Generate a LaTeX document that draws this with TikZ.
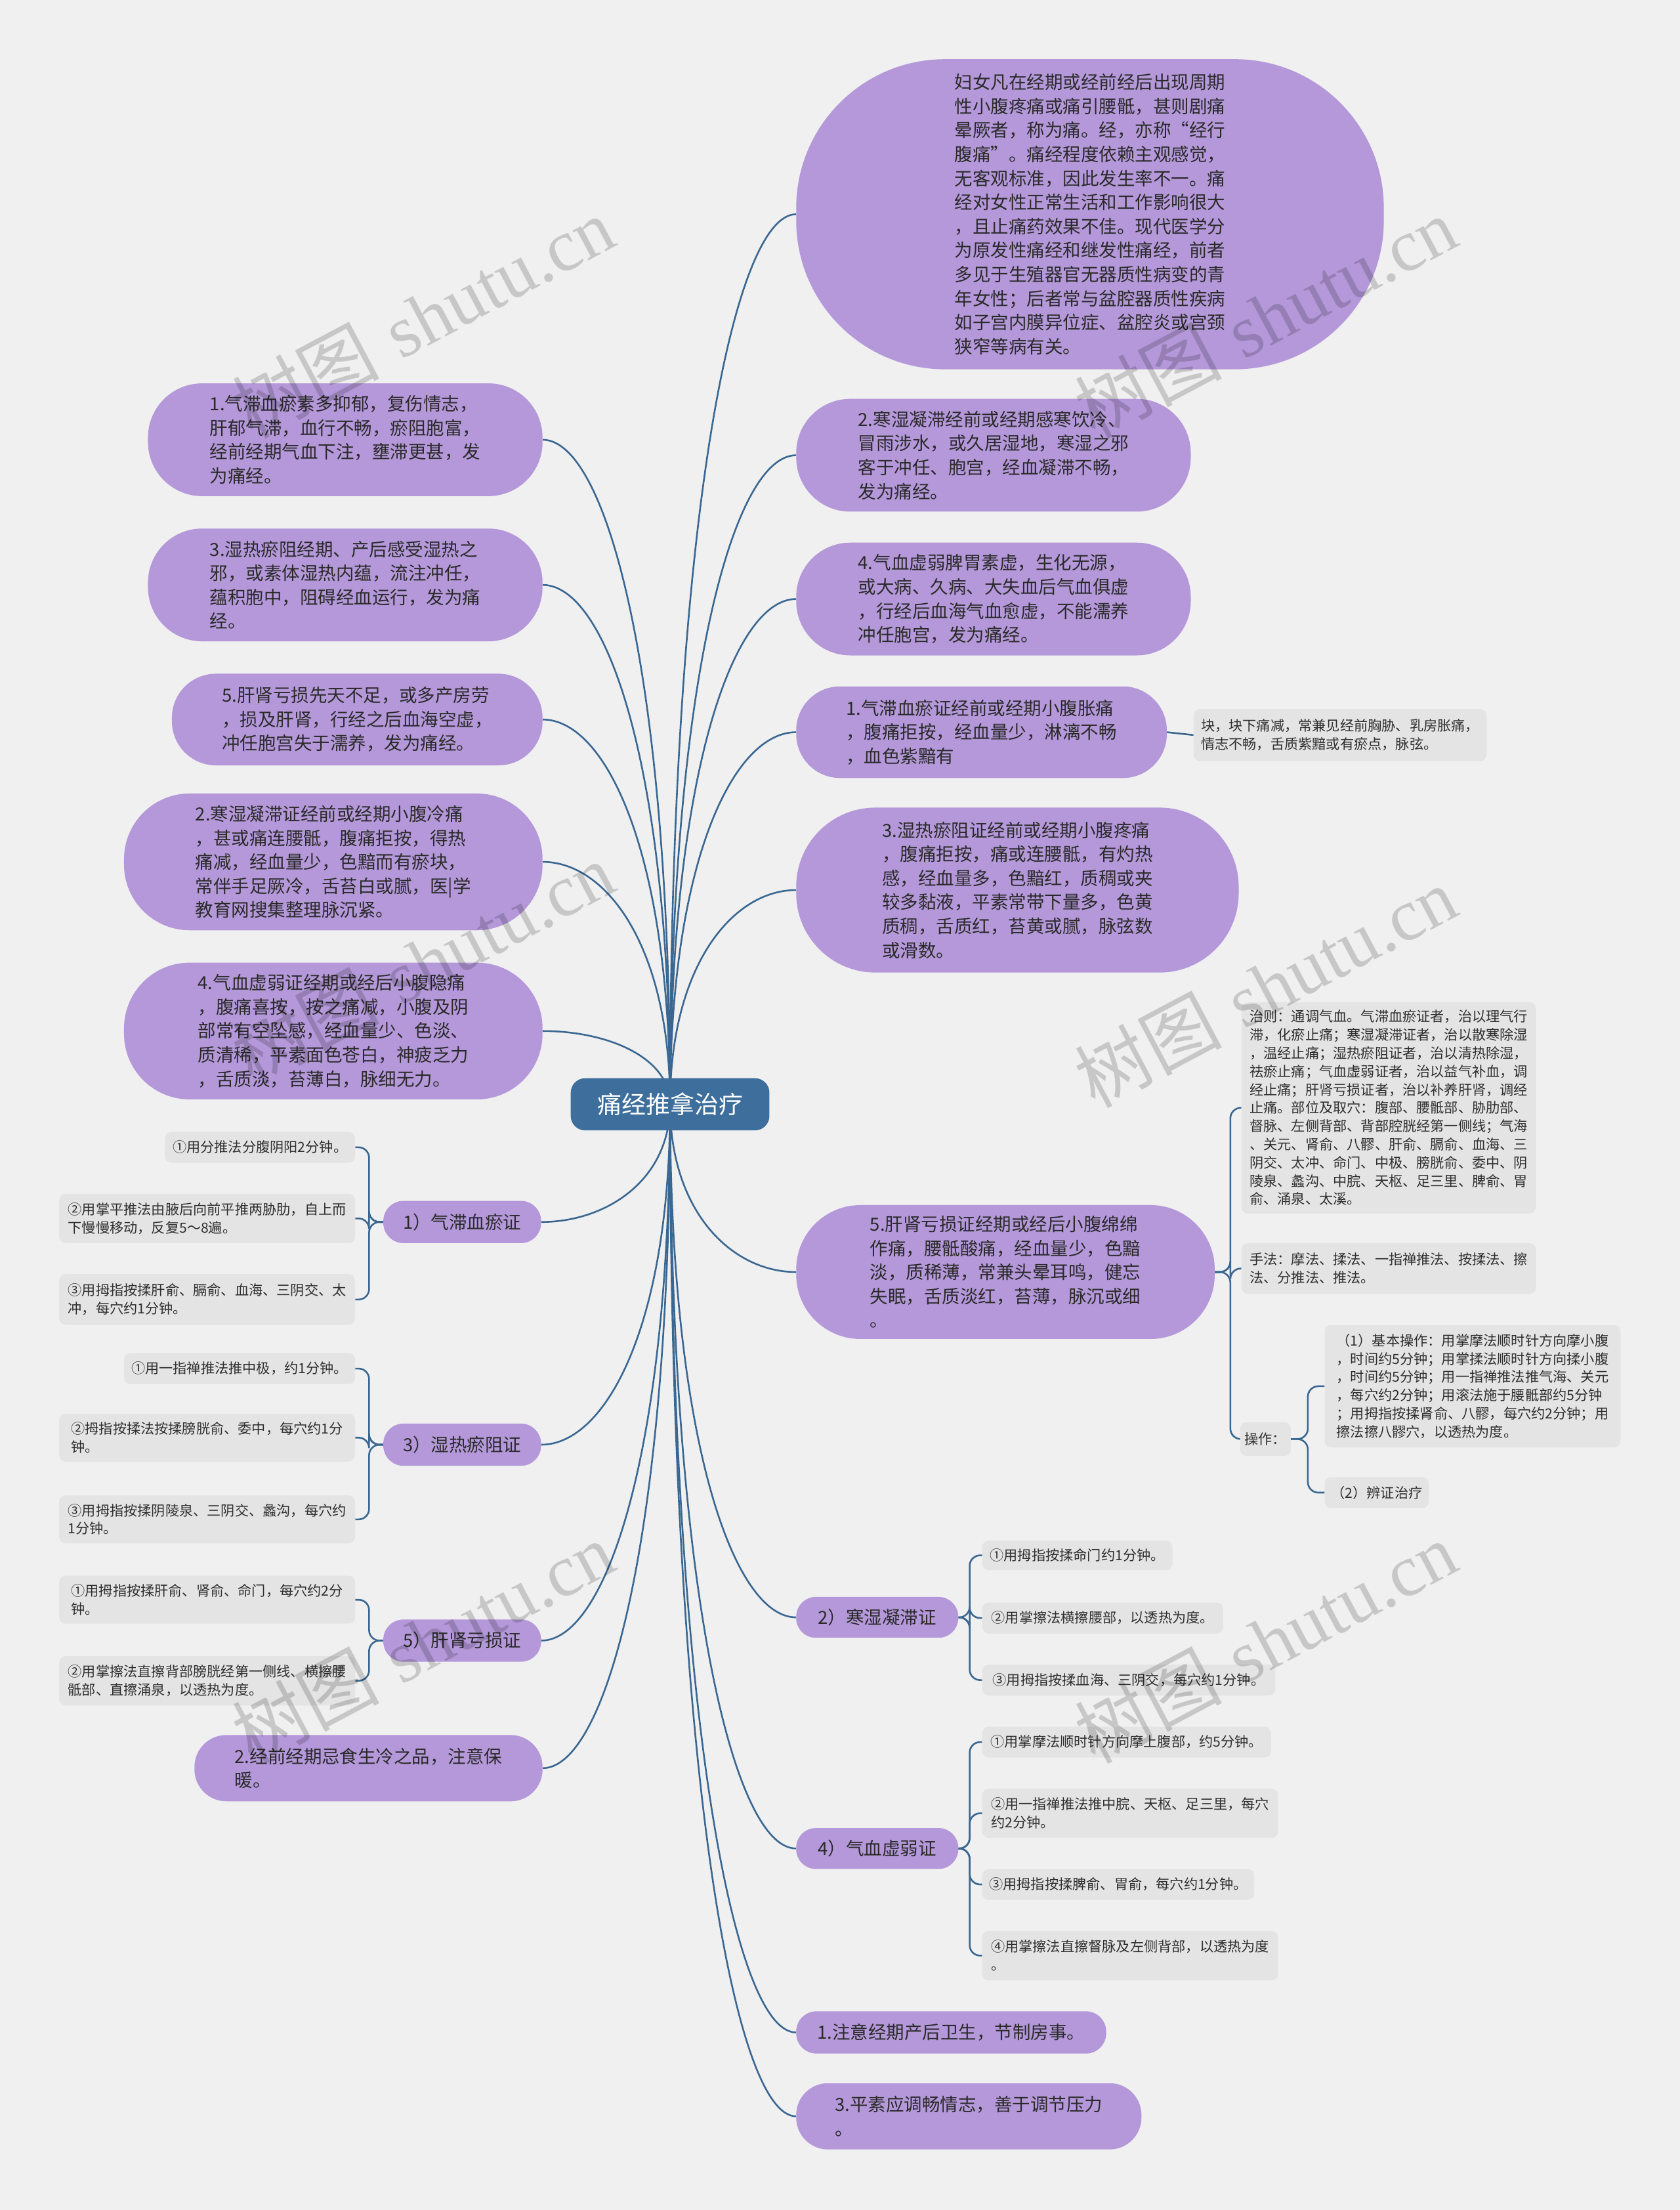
\documentclass[tikz,border=0pt]{standalone}
\usepackage{fontspec}
\newfontfamily\cjk{Noto Sans CJK SC}
\newfontfamily\wmserif{Liberation Serif}
\usetikzlibrary{calc}
\pgfdeclarelayer{bg}
\pgfsetlayers{bg,main}
\definecolor{bgc}{HTML}{F0F0F0}
\definecolor{pfill}{HTML}{B498D9}
\definecolor{cfill}{HTML}{3D6E9C}
\definecolor{lnc}{HTML}{3A6791}
\definecolor{gfill}{HTML}{E4E4E4}
\definecolor{ptext}{HTML}{2A2A2A}
\definecolor{gtext}{HTML}{2E2E2E}
\newcommand\bx[7]{%
  \pgfmathsetmacro\bxw{(#4-#3)*2.1477}%
  \pgfmathsetmacro\bxh{(#6-#5)*2.1477}%
  \pgfmathsetmacro\bxr{\bxh*0.48}%
  \pgfmathsetmacro\bxcx{(#3+#4)/2}%
  \pgfmathsetmacro\bxcy{(#5+#6)/2}%
  \node[#2, minimum width=\bxw pt, minimum height=\bxh pt] (#1) at (\bxcx,\bxcy) {#7};%
}
\newcommand\cto[2]{%
  \path (c.center |- #1.#2) coordinate (k);
  \draw[conn] (c.center) .. controls ($(c.center)!0.65!(k)$) and ($(#1.#2)!0.5!(k)$) .. (#1.#2);
}
\begin{document}
\begin{tikzpicture}[x=2.1477pt,y=-2.1477pt,
  pnode/.style={fill=pfill, rounded corners=\bxr pt, inner sep=0pt, align=left, text=ptext, font=\cjk\fontsize{27.5}{36.6}\selectfont},
  gnode/.style={fill=gfill, rounded corners=10pt, inner sep=0pt, align=left, text=gtext, font=\cjk\fontsize{21.2}{27.8}\selectfont},
  cnode/.style={fill=cfill, rounded corners=22pt, inner sep=0pt, text=white, font=\cjk\fontsize{37}{44}\selectfont},
  conn/.style={draw=lnc, line width=2.6pt},
  brk/.style={draw=lnc, line width=2.6pt, rounded corners=16pt},
  wm/.style={text=black, opacity=0.17, font=\fontsize{112}{120}\selectfont, inner sep=0pt}]
\useasboundingbox (0,0) rectangle (1192,1568);

% center
\bx{c}{cnode}{405}{546}{765}{802}{痛经推拿治疗}

% right side
\bx{R1}{pnode}{565}{982}{42}{262}{妇女凡在经期或经前经后出现周期\\性小腹疼痛或痛引腰骶，甚则剧痛\\晕厥者，称为痛。经，亦称“经行\\腹痛”。痛经程度依赖主观感觉，\\无客观标准，因此发生率不一。痛\\经对女性正常生活和工作影响很大\\，且止痛药效果不佳。现代医学分\\为原发性痛经和继发性痛经，前者\\多见于生殖器官无器质性病变的青\\年女性；后者常与盆腔器质性疾病\\如子宫内膜异位症、盆腔炎或宫颈\\狭窄等病有关。}
\bx{R2}{pnode}{565}{845}{283}{363}{2.寒湿凝滞经前或经期感寒饮冷、\\冒雨涉水，或久居湿地，寒湿之邪\\客于冲任、胞宫，经血凝滞不畅，\\发为痛经。}
\bx{R3}{pnode}{565}{845}{385}{465}{4.气血虚弱脾胃素虚，生化无源，\\或大病、久病、大失血后气血俱虚\\，行经后血海气血愈虚，不能濡养\\冲任胞宫，发为痛经。}
\bx{R4}{pnode}{565}{828}{487}{552}{1.气滞血瘀证经前或经期小腹胀痛\\，腹痛拒按，经血量少，淋漓不畅\\，血色紫黯有}
\bx{R4g}{gnode}{847}{1055}{503}{540}{块，块下痛减，常兼见经前胸胁、乳房胀痛，\\情志不畅，舌质紫黯或有瘀点，脉弦。}
\bx{R5}{pnode}{565}{879}{573}{690}{3.湿热瘀阻证经前或经期小腹疼痛\\，腹痛拒按，痛或连腰骶，有灼热\\感，经血量多，色黯红，质稠或夹\\较多黏液，平素常带下量多，色黄\\质稠，舌质红，苔黄或腻，脉弦数\\或滑数。}
\bx{R6}{pnode}{565}{862}{855}{950}{5.肝肾亏损证经期或经后小腹绵绵\\作痛，腰骶酸痛，经血量少，色黯\\淡，质稀薄，常兼头晕耳鸣，健忘\\失眠，舌质淡红，苔薄，脉沉或细\\。}
\bx{G1}{gnode}{881}{1090}{711}{861}{治则：通调气血。气滞血瘀证者，治以理气行\\滞，化瘀止痛；寒湿凝滞证者，治以散寒除湿\\，温经止痛；湿热瘀阻证者，治以清热除湿，\\祛瘀止痛；气血虚弱证者，治以益气补血，调\\经止痛；肝肾亏损证者，治以补养肝肾，调经\\止痛。部位及取穴：腹部、腰骶部、胁肋部、\\督脉、左侧背部、背部腔胱经第一侧线；气海\\、关元、肾俞、八髎、肝俞、膈俞、血海、三\\阴交、太冲、命门、中极、膀胱俞、委中、阴\\陵泉、蠡沟、中脘、天枢、足三里、脾俞、胃\\俞、涌泉、太溪。}
\bx{G2}{gnode}{881}{1090}{882}{918}{手法：摩法、揉法、一指禅推法、按揉法、擦\\法、分推法、推法。}
\bx{G3}{gnode}{880}{916}{1009}{1033}{操作：}
\bx{G3a}{gnode}{940}{1150}{940}{1027}{（1）基本操作：用掌摩法顺时针方向摩小腹\\，时间约5分钟；用掌揉法顺时针方向揉小腹\\，时间约5分钟；用一指禅推法推气海、关元\\，每穴约2分钟；用滚法施于腰骶部约5分钟\\；用拇指按揉肾俞、八髎，每穴约2分钟；用\\擦法擦八髎穴，以透热为度。}
\bx{G3b}{gnode}{940}{1014}{1048}{1070}{（2）辨证治疗}
\bx{R7}{pnode}{565}{680}{1133}{1162}{2）寒湿凝滞证}
\bx{R7a}{gnode}{697}{832}{1093}{1114}{①用拇指按揉命门约1分钟。}
\bx{R7b}{gnode}{697}{868}{1137}{1159}{②用掌擦法横擦腰部，以透热为度。}
\bx{R7c}{gnode}{697}{905}{1181}{1203}{③用拇指按揉血海、三阴交，每穴约1分钟。}
\bx{R8}{pnode}{565}{680}{1297}{1326}{4）气血虚弱证}
\bx{R8a}{gnode}{697}{902}{1225}{1247}{①用掌摩法顺时针方向摩上腹部，约5分钟。}
\bx{R8b}{gnode}{697}{907}{1269}{1304}{②用一指禅推法推中脘、天枢、足三里，每穴\\约2分钟。}
\bx{R8c}{gnode}{697}{890}{1326}{1348}{③用拇指按揉脾俞、胃俞，每穴约1分钟。}
\bx{R8d}{gnode}{697}{907}{1370}{1405}{④用掌擦法直擦督脉及左侧背部，以透热为度\\。}
\bx{R9}{pnode}{565}{785}{1427}{1457}{1.注意经期产后卫生，节制房事。}
\bx{R10}{pnode}{565}{810}{1478}{1525}{3.平素应调畅情志，善于调节压力\\。}

% left side
\bx{L1}{pnode}{105}{385}{272}{352}{1.气滞血瘀素多抑郁，复伤情志，\\肝郁气滞，血行不畅，瘀阻胞富，\\经前经期气血下注，壅滞更甚，发\\为痛经。}
\bx{L2}{pnode}{105}{385}{375}{455}{3.湿热瘀阻经期、产后感受湿热之\\邪，或素体湿热内蕴，流注冲任，\\蕴积胞中，阻碍经血运行，发为痛\\经。}
\bx{L3}{pnode}{122}{385}{478}{543}{5.肝肾亏损先天不足，或多产房劳\\，损及肝肾，行经之后血海空虚，\\冲任胞宫失于濡养，发为痛经。}
\bx{L4}{pnode}{88}{385}{563}{660}{2.寒湿凝滞证经前或经期小腹冷痛\\，甚或痛连腰骶，腹痛拒按，得热\\痛减，经血量少，色黯而有瘀块，\\常伴手足厥冷，舌苔白或腻，医|学\\教育网搜集整理脉沉紧。}
\bx{L5}{pnode}{88}{385}{683}{780}{4.气血虚弱证经期或经后小腹隐痛\\，腹痛喜按，按之痛减，小腹及阴\\部常有空坠感，经血量少、色淡、\\质清稀，平素面色苍白，神疲乏力\\，舌质淡，苔薄白，脉细无力。}
\bx{L6}{pnode}{272}{384}{852}{882}{1）气滞血瘀证}
\bx{L6a}{gnode}{117}{252}{803}{825}{①用分推法分腹阴阳2分钟。}
\bx{L6b}{gnode}{42}{252}{847}{882}{②用掌平推法由腋后向前平推两胁肋，自上而\\下慢慢移动，反复5～8遍。}
\bx{L6c}{gnode}{42}{252}{904}{940}{③用拇指按揉肝俞、膈俞、血海、三阴交、太\\冲，每穴约1分钟。}
\bx{L7}{pnode}{272}{384}{1010}{1040}{3）湿热瘀阻证}
\bx{L7a}{gnode}{88}{252}{960}{982}{①用一指禅推法推中极，约1分钟。}
\bx{L7b}{gnode}{42}{252}{1003}{1037}{②拇指按揉法按揉膀胱俞、委中，每穴约1分\\钟。}
\bx{L7c}{gnode}{42}{252}{1061}{1095}{③用拇指按揉阴陵泉、三阴交、蠡沟，每穴约\\1分钟。}
\bx{L8}{pnode}{272}{384}{1149}{1179}{5）肝肾亏损证}
\bx{L8a}{gnode}{42}{252}{1118}{1152}{①用拇指按揉肝俞、肾俞、命门，每穴约2分\\钟。}
\bx{L8b}{gnode}{42}{252}{1175}{1210}{②用掌擦法直擦背部膀胱经第一侧线、横擦腰\\骶部、直擦涌泉，以透热为度。}
\bx{L9}{pnode}{138}{385}{1231}{1278}{2.经前经期忌食生冷之品，注意保\\暖。}

\begin{pgfonlayer}{bg}
\fill[bgc] (0,0) rectangle (1192,1568);
\foreach \t in {R1,R2,R3,R4,R5,R6,R7,R8,R9,R10}{\cto{\t}{west}}
\foreach \t in {L1,L2,L3,L4,L5,L6,L7,L8,L9}{\cto{\t}{east}}
\draw[conn] (R4.east) -- (R4g.west);
\foreach \t in {G1,G2,G3}{\draw[brk] (R6.east) -- ++(11,0) |- (\t.west);}
\foreach \t in {G3a,G3b}{\draw[brk] (G3.east) -- ++(12,0) |- (\t.west);}
\foreach \t in {R7a,R7b,R7c}{\draw[brk] (R7.east) -- ++(8,0) |- (\t.west);}
\foreach \t in {R8a,R8b,R8c,R8d}{\draw[brk] (R8.east) -- ++(8,0) |- (\t.west);}
\foreach \t in {L6a,L6b,L6c}{\draw[brk] (L6.west) -- ++(-10,0) |- (\t.east);}
\foreach \t in {L7a,L7b,L7c}{\draw[brk] (L7.west) -- ++(-10,0) |- (\t.east);}
\foreach \t in {L8a,L8b}{\draw[brk] (L8.west) -- ++(-10,0) |- (\t.east);}
\end{pgfonlayer}

% watermarks
\node[wm, rotate=28] (w1) at (300,225) {{\cjk 树图} {\wmserif shutu.cn}};
\node[wm, rotate=28] (w2) at (898,225) {{\cjk 树图} {\wmserif shutu.cn}};
\node[wm, rotate=28] (w3) at (300,683) {{\cjk 树图} {\wmserif shutu.cn}};
\node[wm, rotate=28] (w4) at (898,700) {{\cjk 树图} {\wmserif shutu.cn}};
\node[wm, rotate=28] (w5) at (300,1165) {{\cjk 树图} {\wmserif shutu.cn}};
\node[wm, rotate=28] (w6) at (898,1165) {{\cjk 树图} {\wmserif shutu.cn}};
\node[wm, rotate=28] (w7) at (300,1640) {{\cjk 树图} {\wmserif shutu.cn}};
\node[wm, rotate=28] (w8) at (898,1640) {{\cjk 树图} {\wmserif shutu.cn}};
\end{tikzpicture}
\end{document}
